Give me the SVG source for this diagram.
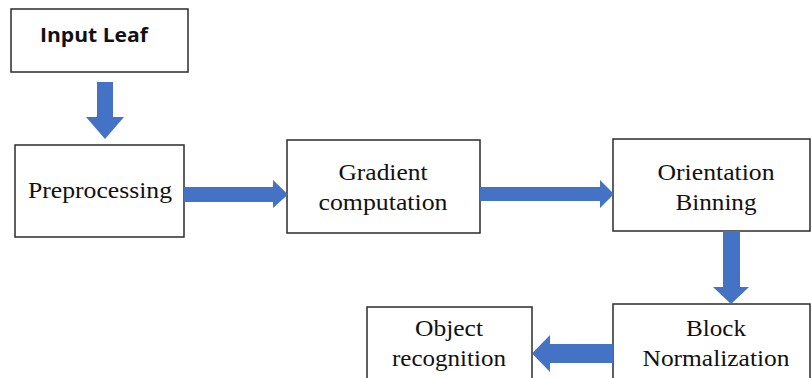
<svg xmlns="http://www.w3.org/2000/svg" width="812" height="378" viewBox="0 0 812 378">
<style>
.box{fill:#fff;stroke:#2b2b2b;stroke-width:1.5}
.t{font-family:"Liberation Serif","Times New Roman",Times,serif;font-size:23px;fill:#111;text-anchor:middle}
.s{font-family:"Open Sans","Liberation Sans",sans-serif;font-weight:bold;font-size:20px;fill:#111}
.arr{fill:#4472C4}
</style>
<rect width="812" height="378" fill="#fff"/>
<g id="input-leaf"><rect class="box" x="11" y="9" width="177" height="63"/><text class="s" x="40" y="42" textLength="108" lengthAdjust="spacingAndGlyphs">Input Leaf</text></g>
<g id="preprocessing"><rect class="box" x="15" y="145" width="169" height="92"/><text class="t" x="100" y="198" textLength="144" lengthAdjust="spacingAndGlyphs">Preprocessing</text></g>
<g id="gradient"><rect class="box" x="287" y="140" width="193" height="93"/><text class="t" x="383" y="180" textLength="89" lengthAdjust="spacingAndGlyphs">Gradient</text><text class="t" x="383" y="210" textLength="129" lengthAdjust="spacingAndGlyphs">computation</text></g>
<g id="orientation"><rect class="box" x="613" y="139" width="197" height="92"/><text class="t" x="716" y="180" textLength="117" lengthAdjust="spacingAndGlyphs">Orientation</text><text class="t" x="716" y="210" textLength="81" lengthAdjust="spacingAndGlyphs">Binning</text></g>
<g id="block"><rect class="box" x="613" y="304" width="197" height="90"/><text class="t" x="716" y="336" textLength="60" lengthAdjust="spacingAndGlyphs">Block</text><text class="t" x="716" y="366" textLength="147" lengthAdjust="spacingAndGlyphs">Normalization</text></g>
<g id="object"><rect class="box" x="367" y="307" width="165" height="90"/><text class="t" x="449" y="336" textLength="68" lengthAdjust="spacingAndGlyphs">Object</text><text class="t" x="449" y="366" textLength="114" lengthAdjust="spacingAndGlyphs">recognition</text></g>
<g id="connectors">
<polygon class="arr" points="97,82 113,82 113,117 124,117 105,139 86,117 97,117"/>
<polygon class="arr" points="184,187 273,187 273,180 288,194.5 273,208 273,202 184,202"/>
<polygon class="arr" points="480,187 600,187 600,180 614,194 600,208 600,201 480,201"/>
<polygon class="arr" points="723,231 740,231 740,287 749,287 731,304 713,287 723,287"/>
<polygon class="arr" points="613,344 550,344 550,335 532,353.5 550,372 550,363 613,363"/>
</g>
</svg>
